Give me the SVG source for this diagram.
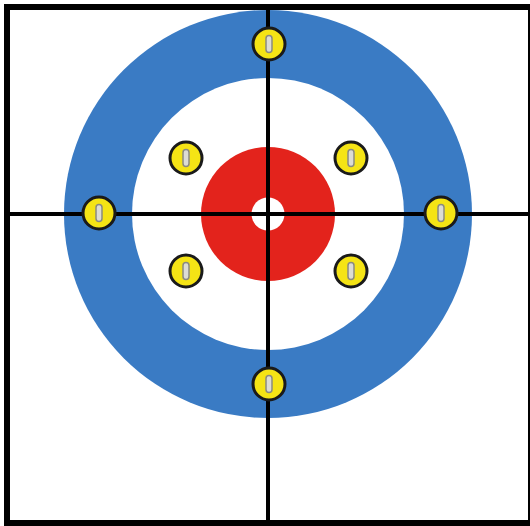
<svg xmlns="http://www.w3.org/2000/svg" width="530" height="526" viewBox="0 0 530 526">
<defs>
<style>
.body{fill:#f5e415;stroke:#1a1a1a;stroke-width:3}
.handle{fill:#dcdcd4;stroke:#8a8a80;stroke-width:1.5}
.line{stroke:#000;stroke-width:4}
</style>
<g id="stoneShape">
<circle class="body" cx="0" cy="0" r="16"/>
<rect class="handle" x="-3" y="-8.5" width="6" height="17" rx="3"/>
</g>
</defs>
<rect width="530" height="526" fill="#fff"/>
<g id="house">
<circle cx="268" cy="214" r="204" fill="#3a7bc4"/>
<circle cx="268" cy="214" r="136" fill="#fff"/>
<circle cx="268" cy="214" r="67" fill="#e3231c"/>
<circle cx="268" cy="214" r="16.5" fill="#fff"/>
</g>
<g id="connectors">
<line class="line" x1="268" y1="7" x2="268" y2="523"/>
<line class="line" x1="7" y1="214" x2="530" y2="214"/>
</g>
<rect id="frame" x="7" y="7" width="524" height="516" fill="none" stroke="#000" stroke-width="6"/>
<g id="stone-top"><use href="#stoneShape" x="269" y="44"/></g>
<g id="stone-bottom"><use href="#stoneShape" x="269" y="384"/></g>
<g id="stone-left"><use href="#stoneShape" x="99" y="213"/></g>
<g id="stone-right"><use href="#stoneShape" x="441" y="213"/></g>
<g id="stone-tl"><use href="#stoneShape" x="186" y="158"/></g>
<g id="stone-tr"><use href="#stoneShape" x="351" y="158"/></g>
<g id="stone-bl"><use href="#stoneShape" x="186" y="271"/></g>
<g id="stone-br"><use href="#stoneShape" x="351" y="271"/></g>
</svg>
